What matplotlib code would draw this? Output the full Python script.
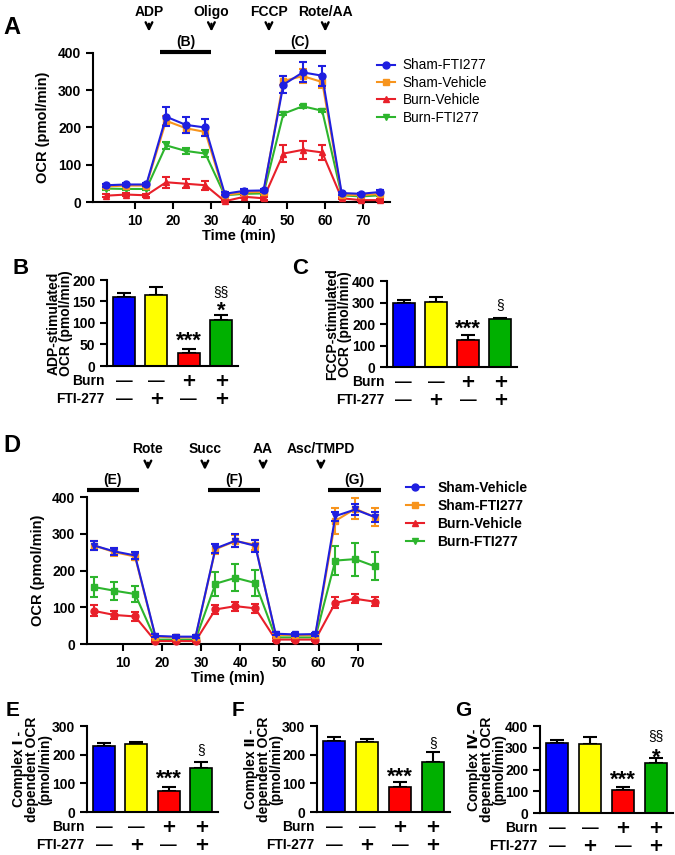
import matplotlib
matplotlib.use('Agg')
import matplotlib.pyplot as plt
from matplotlib.lines import Line2D

plt.rcParams['font.family'] = ['Liberation Sans', 'DejaVu Sans']
plt.rcParams['font.weight'] = 'bold'
plt.rcParams['axes.linewidth'] = 1.5

W, H = 675, 855

# seahorse time points (min)
time_min = [2.5, 7.7, 13.0, 18.2, 23.4, 28.5, 33.6, 38.7, 43.8, 49.0, 54.1, 59.2, 64.3, 69.4, 74.5]

# panel A - intact cells
a_labels = ['Sham-FTI277', 'Sham-Vehicle', 'Burn-Vehicle', 'Burn-FTI277']
a_sham_fti = [45, 47, 47, 229, 207, 200, 22, 30, 31, 315, 348, 339, 24, 22, 27]
a_sham_fti_err = [4, 4, 4, 25, 22, 22, 4, 5, 5, 22, 27, 27, 4, 3, 4]
a_sham_veh = [42, 44, 44, 218, 198, 188, 18, 26, 27, 325, 338, 322, 20, 18, 22]
a_sham_veh_err = [4, 4, 4, 12, 12, 12, 3, 4, 4, 12, 18, 16, 3, 3, 3]
a_burn_veh = [17, 20, 18, 53, 49, 45, 2, 14, 10, 130, 140, 133, 10, 5, 5]
a_burn_veh_err = [4, 4, 4, 15, 12, 12, 3, 4, 4, 22, 25, 20, 3, 3, 3]
a_burn_fti = [36, 35, 35, 152, 137, 130, 18, 22, 23, 237, 257, 245, 18, 15, 18]
a_burn_fti_err = [3, 3, 3, 10, 9, 9, 3, 3, 3, 4, 4, 4, 3, 3, 3]

# panel D - permeabilized cells
d_labels = ['Sham-Vehicle', 'Sham-FTI277', 'Burn-Vehicle', 'Burn-FTI277']
d_sham_veh = [268, 252, 241, 22, 20, 20, 260, 281, 267, 28, 26, 27, 348, 366, 345]
d_sham_veh_err = [12, 10, 10, 4, 4, 4, 13, 17, 16, 4, 4, 4, 12, 14, 14]
d_sham_fti = [268, 250, 238, 20, 18, 18, 258, 280, 270, 25, 24, 24, 335, 368, 345]
d_sham_fti_err = [12, 10, 10, 4, 4, 4, 13, 16, 14, 4, 4, 4, 35, 28, 25]
d_burn_veh = [90, 79, 75, 8, 8, 8, 94, 103, 97, 12, 12, 12, 112, 123, 115]
d_burn_veh_err = [15, 12, 12, 3, 3, 3, 12, 12, 12, 3, 3, 3, 15, 12, 12]
d_burn_fti = [155, 145, 136, 12, 12, 12, 164, 180, 166, 18, 18, 18, 227, 231, 211]
d_burn_fti_err = [28, 25, 22, 3, 3, 3, 33, 37, 35, 3, 3, 3, 40, 45, 38]

# bar panels
burn_signs = ['—', '—', '+', '+']
fti_signs = ['—', '+', '—', '+']
b_vals = [160, 166, 31, 108]
b_err = [9, 17, 9, 10]
c_vals = [296, 304, 126, 225]
c_err = [17, 20, 24, 4]
e_vals = [230, 236, 73, 153]
e_err = [12, 9, 15, 21]
f_vals = [248, 243, 88, 173]
f_err = [15, 13, 15, 36]
g_vals = [323, 318, 105, 231]
g_err = [12, 30, 15, 23]

line_cols = {'blue': '#1f1fe0', 'orange': '#f7941d', 'red': '#e8202a', 'green': '#2db52d'}
bar_cols = ['#0000ff', '#ffff00', '#ff0000', '#00b000']

fig = plt.figure(figsize=(W / 100, H / 100), dpi=100)


def px_axes(left, right, top, bottom):
    return fig.add_axes([left / W, 1 - bottom / H, (right - left) / W, (bottom - top) / H])


def style_axes(ax, size=10):
    for s in ['top', 'right']:
        ax.spines[s].set_visible(False)
    ax.tick_params(width=1.5, length=5, labelsize=size)
    for lab in ax.get_xticklabels() + ax.get_yticklabels():
        lab.set_fontweight('bold')


def trace(ax, y, err, col, marker, z):
    ax.errorbar(time_min, y, yerr=err, color=line_cols[col], marker=marker, ms=5,
                lw=1.5, elinewidth=1.5, capsize=3, capthick=1.5, zorder=z, clip_on=False)


def injection(ax, x, label, ylab, ytail, ytip):
    ax.text(x, ylab, label, transform=ax.get_xaxis_transform(), ha='center', va='center',
            fontsize=10)
    ax.annotate('', xy=(x, ytip), xytext=(x, ytail), xycoords=('data', 'axes fraction'),
                arrowprops=dict(arrowstyle='->', lw=1.7, mutation_scale=12, color='black'))


def bracket(ax, x0, x1, label, ybar, ylab):
    ax.plot([x0, x1], [ybar, ybar], transform=ax.get_xaxis_transform(), color='black',
            lw=3, clip_on=False, solid_capstyle='butt')
    ax.text((x0 + x1) / 2, ylab, label, transform=ax.get_xaxis_transform(), ha='center',
            va='center', fontsize=10)


# ---- panel A ----
axA = px_axes(93, 390, 53, 202)
trace(axA, a_burn_fti, a_burn_fti_err, 'green', 'v', 3)
trace(axA, a_burn_veh, a_burn_veh_err, 'red', '^', 4)
trace(axA, a_sham_veh, a_sham_veh_err, 'orange', 's', 5)
trace(axA, a_sham_fti, a_sham_fti_err, 'blue', 'o', 6)
axA.set_xlim(-1, 77)
axA.set_ylim(0, 400)
axA.set_xticks([10, 20, 30, 40, 50, 60, 70])
axA.set_yticks([0, 100, 200, 300, 400])
style_axes(axA)
axA.set_ylabel('OCR (pmol/min)', fontsize=10.5, fontweight='bold', va='center')
axA.yaxis.set_label_coords(-0.168, 0.5)
axA.set_xlabel('Time (min)', fontsize=10.5, fontweight='bold', va='center')
axA.xaxis.set_label_coords(0.49, -0.225)
injection(axA, 13.7, 'ADP', 1.275, 1.215, 1.125)
injection(axA, 30.1, 'Oligo', 1.275, 1.215, 1.125)
injection(axA, 45.2, 'FCCP', 1.275, 1.215, 1.125)
injection(axA, 60.0, 'Rote/AA', 1.275, 1.215, 1.125)
bracket(axA, 16.6, 30.1, '(B)', 1.008, 1.075)
bracket(axA, 46.7, 60.2, '(C)', 1.008, 1.075)
a_handles = [Line2D([], [], color=line_cols[c], marker=m, ms=5, lw=1.5)
             for c, m in [('blue', 'o'), ('orange', 's'), ('red', '^'), ('green', 'v')]]
fig.legend(a_handles, a_labels, loc='upper left', bbox_to_anchor=(372 / W, 1 - 53 / H),
           frameon=False, prop={'size': 9.8, 'weight': 'normal'}, handlelength=1.3,
           handletextpad=0.55, labelspacing=0.25, borderaxespad=0)

# ---- panel D ----
axD = px_axes(87, 381, 497, 644)
trace(axD, d_burn_fti, d_burn_fti_err, 'green', 's', 3)
trace(axD, d_burn_veh, d_burn_veh_err, 'red', 'o', 4)
trace(axD, d_sham_fti, d_sham_fti_err, 'orange', 's', 5)
trace(axD, d_sham_veh, d_sham_veh_err, 'blue', 'v', 6)
axD.set_xlim(0.7, 76)
axD.set_ylim(0, 400)
axD.set_xticks([10, 20, 30, 40, 50, 60, 70])
axD.set_yticks([0, 100, 200, 300, 400])
style_axes(axD)
axD.set_ylabel('OCR (pmol/min)', fontsize=10.5, fontweight='bold', va='center')
axD.yaxis.set_label_coords(-0.167, 0.5)
axD.set_xlabel('Time (min)', fontsize=10.5, fontweight='bold', va='center')
axD.xaxis.set_label_coords(0.48, -0.23)
injection(axD, 16.3, 'Rote', 1.327, 1.252, 1.165)
injection(axD, 30.9, 'Succ', 1.327, 1.252, 1.165)
injection(axD, 45.8, 'AA', 1.327, 1.252, 1.165)
injection(axD, 60.6, 'Asc/TMPD', 1.327, 1.252, 1.165)
bracket(axD, 0.7, 14.0, '(E)', 1.048, 1.116)
bracket(axD, 31.7, 45.0, '(F)', 1.048, 1.116)
bracket(axD, 62.5, 76.0, '(G)', 1.048, 1.116)
d_handles = [Line2D([], [], color=line_cols[c], marker=m, ms=5, lw=1.5)
             for c, m in [('blue', 'o'), ('orange', 's'), ('red', '^'), ('green', 'v')]]
fig.legend(d_handles, d_labels, loc='upper left', bbox_to_anchor=(400 / W, 1 - 475 / H),
           frameon=False, prop={'size': 10, 'weight': 'bold'}, handlelength=1.3,
           handletextpad=1.0, labelspacing=0.3, borderaxespad=0)


# ---- bar panels ----
def bar_panel(box, vals, err, ymax, step, ylabel, ylab_x, marks):
    ax = px_axes(*box)
    xs = range(len(vals))
    ax.bar(xs, vals, width=0.68, color=bar_cols, edgecolor='black', linewidth=1.2, zorder=2)
    ax.errorbar(xs, vals, yerr=[[0] * len(err), err], fmt='none', ecolor='black',
                elinewidth=1.5, capsize=5, capthick=1.5, zorder=1)
    ax.set_xlim(-0.52, 3.52)
    ax.set_ylim(0, ymax)
    ax.set_yticks(range(0, ymax + 1, step))
    ax.set_xticks([])
    style_axes(ax, size=10)
    ax.set_ylabel(ylabel, fontsize=10, fontweight='bold', va='center', linespacing=0.9)
    ax.yaxis.set_label_coords(ylab_x, 0.5)
    for i, (b, f) in enumerate(zip(burn_signs, fti_signs)):
        for s, dy in [(b, -15), (f, -33)]:
            if s == '+':
                ax.annotate(s, xy=(i, 0), xycoords=('data', 'axes fraction'),
                            xytext=(0, dy * 0.72), textcoords='offset points', ha='center',
                            va='center', fontsize=13, fontweight='bold', family='DejaVu Sans')
            else:
                ax.annotate(s, xy=(i, 0), xycoords=('data', 'axes fraction'),
                            xytext=(0, dy * 0.72), textcoords='offset points', ha='center',
                            va='center', fontsize=12, fontweight='bold')
    ax.annotate('Burn', xy=(-0.52, 0), xycoords=('data', 'axes fraction'),
                xytext=(-2, -15 * 0.72), textcoords='offset points', ha='right',
                va='center', fontsize=10)
    ax.annotate('FTI-277', xy=(-0.52, 0), xycoords=('data', 'axes fraction'),
                xytext=(-2, -33 * 0.72), textcoords='offset points', ha='right',
                va='center', fontsize=10)
    for i, y, s in marks:
        fs = 16 if '*' in s else 10
        ax.text(i, y, s, ha='center', va='center', fontsize=fs,
                fontweight='bold' if '*' in s else 'normal')
    return ax


bar_panel((107, 238, 280, 366), b_vals, b_err, 200, 50,
          'ADP-stimulated\nOCR (pmol/min)', -0.36,
          [(2, 58, '***'), (3, 127, '*'), (3, 172, '§§')])
bar_panel((387, 517, 281, 367), c_vals, c_err, 400, 100,
          'FCCP-stimulated\nOCR (pmol/min)', -0.37,
          [(2, 175, '***'), (3, 287, '§')])
bar_panel((87, 218, 726, 812), e_vals, e_err, 300, 100,
          'Complex Ⅰ -\ndependent OCR\n(pmol/min)', -0.42,
          [(2, 114, '***'), (3, 216, '§')])
bar_panel((317, 450, 726, 812), f_vals, f_err, 300, 100,
          'Complex Ⅱ -\ndependent OCR\n(pmol/min)', -0.40,
          [(2, 120, '***'), (3, 240, '§')])
bar_panel((540, 673, 726, 813), g_vals, g_err, 400, 100,
          'Complex Ⅳ-\ndependent OCR\n(pmol/min)', -0.40,
          [(2, 152, '***'), (3, 252, '*'), (3, 352, '§§')])

# panel letters
for x, y, s, fs in [(3, 28, 'A', 17), (12, 268, 'B', 16), (292, 268, 'C', 16),
                    (3, 445, 'D', 17), (6, 710, 'E', 15), (232, 710, 'F', 15),
                    (455, 710, 'G', 15)]:
    fig.text(x / W, 1 - y / H, s, fontsize=fs, fontweight='bold', ha='left', va='center')

fig.savefig('out.png', dpi=100)
